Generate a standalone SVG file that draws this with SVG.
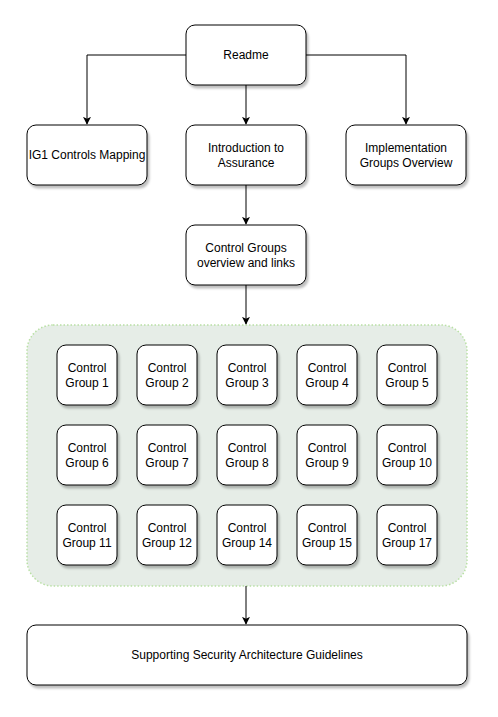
<svg xmlns="http://www.w3.org/2000/svg" width="498" height="717" viewBox="0 0 498 717">
<style>
.box{fill:#ffffff;stroke:#000000;stroke-width:1;filter:url(#sh)}
.t{font-family:"Liberation Sans",Arial,sans-serif;font-size:12px;fill:#000000;text-anchor:middle}
.e{fill:none;stroke:#000000;stroke-width:1}
</style>
<defs>
<filter id="sh" x="-20%" y="-20%" width="150%" height="150%">
<feDropShadow dx="2" dy="3" stdDeviation="1.2" flood-color="#000000" flood-opacity="0.25"/>
</filter>
<marker id="a" viewBox="0 0 10 10" refX="9" refY="5" markerWidth="8" markerHeight="8" markerUnits="userSpaceOnUse" orient="auto">
<path d="M0,0 L10,5 L0,10 L2.5,5 Z" fill="#000000"/>
</marker>
</defs>
<rect width="498" height="717" fill="#ffffff"/>
<g id="container">
<rect x="27" y="325" width="440" height="261" rx="26" fill="#e6ede7" stroke="#b9e0a5" stroke-width="1.5" stroke-dasharray="1.5 2"/>
</g>
<g id="connectors">
<path class="e" d="M186,55 H87 V124" marker-end="url(#a)"/>
<path class="e" d="M246,85 V124" marker-end="url(#a)"/>
<path class="e" d="M306,55 H406 V124" marker-end="url(#a)"/>
<path class="e" d="M246,185 V224" marker-end="url(#a)"/>
<path class="e" d="M246,285 V324" marker-end="url(#a)"/>
<path class="e" d="M246,586 V624" marker-end="url(#a)"/>
</g>
<g id="readme"><rect class="box" x="186" y="25" width="120" height="60" rx="9"/><text class="t" x="246" y="59">Readme</text></g>
<g id="ig1"><rect class="box" x="27" y="125" width="120" height="60" rx="9"/><text class="t" x="87" y="159">IG1 Controls Mapping</text></g>
<g id="intro"><rect class="box" x="186" y="125" width="120" height="60" rx="9"/><text class="t" x="246" y="152">Introduction to</text><text class="t" x="246" y="167">Assurance</text></g>
<g id="impl"><rect class="box" x="346" y="125" width="120" height="60" rx="9"/><text class="t" x="406" y="152">Implementation</text><text class="t" x="406" y="167">Groups Overview</text></g>
<g id="overview"><rect class="box" x="186" y="225" width="120" height="60" rx="9"/><text class="t" x="246" y="252">Control Groups</text><text class="t" x="246" y="267">overview and links</text></g>
<g id="cg1"><rect class="box" x="57" y="345" width="60" height="60" rx="9"/><text class="t" x="87" y="372">Control</text><text class="t" x="87" y="387">Group 1</text></g>
<g id="cg2"><rect class="box" x="137" y="345" width="60" height="60" rx="9"/><text class="t" x="167" y="372">Control</text><text class="t" x="167" y="387">Group 2</text></g>
<g id="cg3"><rect class="box" x="217" y="345" width="60" height="60" rx="9"/><text class="t" x="247" y="372">Control</text><text class="t" x="247" y="387">Group 3</text></g>
<g id="cg4"><rect class="box" x="297" y="345" width="60" height="60" rx="9"/><text class="t" x="327" y="372">Control</text><text class="t" x="327" y="387">Group 4</text></g>
<g id="cg5"><rect class="box" x="377" y="345" width="60" height="60" rx="9"/><text class="t" x="407" y="372">Control</text><text class="t" x="407" y="387">Group 5</text></g>
<g id="cg6"><rect class="box" x="57" y="425" width="60" height="60" rx="9"/><text class="t" x="87" y="452">Control</text><text class="t" x="87" y="467">Group 6</text></g>
<g id="cg7"><rect class="box" x="137" y="425" width="60" height="60" rx="9"/><text class="t" x="167" y="452">Control</text><text class="t" x="167" y="467">Group 7</text></g>
<g id="cg8"><rect class="box" x="217" y="425" width="60" height="60" rx="9"/><text class="t" x="247" y="452">Control</text><text class="t" x="247" y="467">Group 8</text></g>
<g id="cg9"><rect class="box" x="297" y="425" width="60" height="60" rx="9"/><text class="t" x="327" y="452">Control</text><text class="t" x="327" y="467">Group 9</text></g>
<g id="cg10"><rect class="box" x="377" y="425" width="60" height="60" rx="9"/><text class="t" x="407" y="452">Control</text><text class="t" x="407" y="467">Group 10</text></g>
<g id="cg11"><rect class="box" x="57" y="505" width="60" height="60" rx="9"/><text class="t" x="87" y="532">Control</text><text class="t" x="87" y="547">Group 11</text></g>
<g id="cg12"><rect class="box" x="137" y="505" width="60" height="60" rx="9"/><text class="t" x="167" y="532">Control</text><text class="t" x="167" y="547">Group 12</text></g>
<g id="cg14"><rect class="box" x="217" y="505" width="60" height="60" rx="9"/><text class="t" x="247" y="532">Control</text><text class="t" x="247" y="547">Group 14</text></g>
<g id="cg15"><rect class="box" x="297" y="505" width="60" height="60" rx="9"/><text class="t" x="327" y="532">Control</text><text class="t" x="327" y="547">Group 15</text></g>
<g id="cg17"><rect class="box" x="377" y="505" width="60" height="60" rx="9"/><text class="t" x="407" y="532">Control</text><text class="t" x="407" y="547">Group 17</text></g>
<g id="supporting"><rect class="box" x="27" y="625" width="440" height="60" rx="9"/><text class="t" x="247" y="659">Supporting Security Architecture Guidelines</text></g>
</svg>
